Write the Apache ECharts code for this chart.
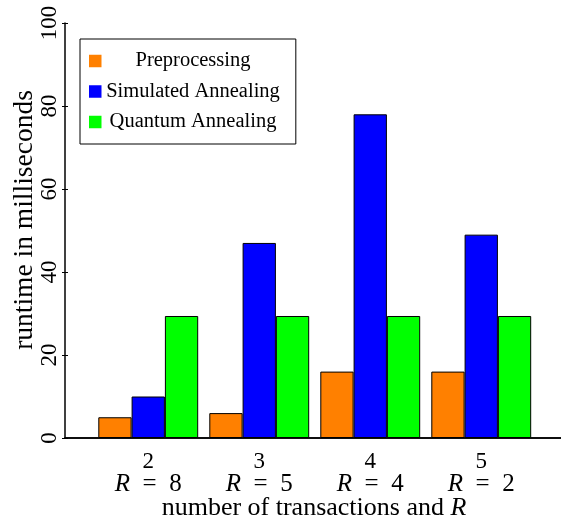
<!DOCTYPE html>
<html>
<head>
<meta charset="utf-8">
<script src="https://cdn.jsdelivr.net/npm/echarts@6/dist/echarts.min.js"></script>
<style>
  html, body { margin: 0; padding: 0; background: #ffffff; }
  #chart { width: 561px; height: 518px; }
</style>
</head>
<body>
<div id="chart"></div>
<script>
// Runtime per stage, grouped by number of transactions (with matching R)
const transactions = [2, 3, 4, 5];
const rValues = [8, 5, 4, 2];
const preprocessing = [5, 6, 16, 16];
const simulatedAnnealing = [10, 47, 78, 49];
const quantumAnnealing = [29.4, 29.4, 29.4, 29.4];
const yTicks = [0, 20, 40, 60, 80, 100];
const xTitle = 'number of transactions and ';
const xTitleSymbol = 'R';
const yTitle = 'runtime in milliseconds';

const seriesNames = ['Preprocessing', 'Simulated Annealing', 'Quantum Annealing'];
const seriesColors = ['#ff8000', '#0000ff', '#00ff00'];
const seriesValues = [preprocessing, simulatedAnnealing, quantumAnnealing];

const serif = '"Liberation Serif", "Times New Roman", serif';

const chart = echarts.init(document.getElementById('chart'), null, { renderer: 'canvas' });

// "2" on the first line, "R = 8" (math style) on the second
const tickLabel = (v) => {
  const i = transactions.indexOf(v);
  return '{n|' + v + '}\n{r|R}{e|\u2002=\u2002' + rValues[i] + '}';
};

const xRange = { type: 'value', min: 1.25, max: 5.75 };
const yRange = { type: 'value', min: 0, max: 100, interval: 20 };

const option = {
  animation: false,
  backgroundColor: '#ffffff',
  grid: {
    left: 65, top: 23, bottom: 80, right: -3.5,
    containLabel: false,
    outerBoundsMode: 'none'
  },
  legend: {
    orient: 'vertical',
    left: 80,
    top: 39,
    padding: [11.5, 16, 11.5, 9],
    itemGap: 9.5,
    itemWidth: 12.5,
    itemHeight: 12.5,
    icon: 'rect',
    itemStyle: { borderWidth: 0 },
    borderColor: '#000000',
    borderWidth: 1,
    backgroundColor: '#ffffff',
    data: seriesNames,
    formatter: (name) => '{c|' + name + '}',
    textStyle: {
      rich: {
        c: {
          width: 173, align: 'center', fontFamily: serif, fontSize: 20.5,
          lineHeight: 20, color: '#000000'
        }
      }
    }
  },
  // axis titles
  graphic: [
    {
      type: 'text',
      x: 314,
      y: 508,
      silent: true,
      style: {
        text: xTitle + '{r|' + xTitleSymbol + '}',
        fontFamily: serif,
        fontSize: 26,
        fill: '#000000',
        align: 'center',
        verticalAlign: 'middle',
        rich: { r: { fontFamily: serif, fontSize: 26, fontStyle: 'italic', fill: '#000000' } }
      }
    },
    {
      type: 'text',
      x: 25,
      y: 220,
      rotation: Math.PI / 2,
      silent: true,
      style: {
        text: yTitle,
        fontFamily: serif,
        fontSize: 27.5,
        fill: '#000000',
        align: 'center',
        verticalAlign: 'middle'
      }
    }
  ],
  xAxis: [
    {
      ...xRange,
      position: 'bottom',
      axisLine: { show: true, lineStyle: { color: '#000000', width: 1.5 } },
      axisTick: { show: false },
      splitLine: { show: false },
      axisLabel: {
        customValues: transactions,
        formatter: tickLabel,
        margin: 12,
        color: '#000000',
        rich: {
          n: { fontFamily: serif, fontSize: 23, lineHeight: 23, color: '#000000' },
          r: { fontFamily: serif, fontSize: 25, fontStyle: 'italic', lineHeight: 22, color: '#000000' },
          e: { fontFamily: serif, fontSize: 25, lineHeight: 22, color: '#000000' }
        }
      }
    },
    {
      // frame line along the top of the plot
      ...xRange,
      position: 'top',
      axisLine: { show: true, lineStyle: { color: '#000000', width: 1.5 } },
      axisTick: { show: false },
      axisLabel: { show: false },
      splitLine: { show: false }
    }
  ],
  yAxis: [
    {
      ...yRange,
      position: 'left',
      axisLine: { show: true, lineStyle: { color: '#000000', width: 1.5 } },
      axisTick: { show: true, inside: false, length: 3, lineStyle: { color: '#000000', width: 1 } },
      splitLine: { show: false },
      axisLabel: {
        customValues: yTicks,
        rotate: 90,
        margin: 4,
        fontFamily: serif,
        fontSize: 23,
        color: '#000000'
      }
    },
    {
      // inner tick marks
      ...yRange,
      position: 'left',
      axisLine: { show: false },
      axisTick: { show: true, inside: true, length: 3, lineStyle: { color: '#000000', width: 1 } },
      axisLabel: { show: false },
      splitLine: { show: false }
    }
  ],
  series: seriesNames.map((name, k) => ({
    name: name,
    type: 'bar',
    xAxisIndex: 0,
    yAxisIndex: 0,
    barWidth: 33.3,
    barGap: '0%',
    itemStyle: { color: seriesColors[k], borderColor: '#000000', borderWidth: 1 },
    data: transactions.map((t, i) => [t, seriesValues[k][i]])
  }))
};

chart.setOption(option);
</script>
</body>
</html>
